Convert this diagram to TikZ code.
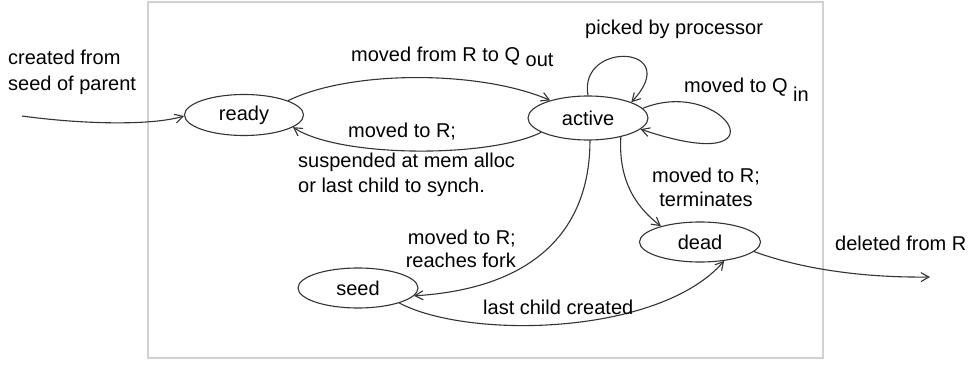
\documentclass[tikz,border=0pt]{standalone}
\usepackage{fontspec}
\setmainfont{Liberation Sans}
\usetikzlibrary{arrows.meta,shapes.geometric}
\begin{document}
\begin{tikzpicture}[x=1pt,y=-1pt,
  state/.style={ellipse,draw=black!80,line width=1.1pt,inner sep=0pt,
    minimum width=120pt,minimum height=41pt,font=\fontsize{20}{24}\selectfont},
  lbl/.style={inner sep=0pt,font=\fontsize{20}{24}\selectfont,text=black},
  conn/.style={draw=black!80,line width=1.1pt,-{Straight Barb[length=8pt,width=9pt,line width=1.1pt]}}]
\useasboundingbox (0,0) rectangle (970,366);
\draw[black!18,line width=1.2pt] (148,2) rectangle (823,358);
% states
\node[state,minimum width=119pt] (ready) at (244,115) {ready};
\node[state,minimum height=44pt] (active) at (588,118) {active};
\node[state,minimum width=121pt,minimum height=40pt] (dead) at (700,242) {dead};
\node[state,minimum height=40pt] (seed) at (358,288) {seed};
% free ends
\coordinate (inS) at (22,116);
\coordinate (outE) at (930,277);
% connectors
\draw[conn] (inS) .. controls (80,124) and (150,126) .. (ready.181);
\draw[conn] (ready.18) .. controls (350,70) and (480,70) .. (active.155);
\draw[conn] (active.197) .. controls (490,158) and (340,158) .. (ready.346);
\draw[conn] (active.90) .. controls (578,40) and (685,45) .. (active.20);
\draw[conn] (active.10) .. controls (725,75) and (790,180) .. (active.-12);
\draw[conn] (active.-30) .. controls (618,185) and (640,210) .. (dead.158);
\draw[conn] (active.-85) .. controls (590,225) and (540,288) .. (seed.-8);
\draw[conn] (seed.-20) .. controls (470,340) and (660,335) .. (dead.-38);
\draw[conn] (dead.-10) .. controls (790,265) and (850,278) .. (outE);
% labels
\node[lbl,anchor=base west,align=left,font=\fontsize{20}{26}\selectfont] (lcreated) at (8,91) {created from\\seed of parent};
\node[lbl,anchor=base west] (lqout) at (351,62) {moved from R to Q \raisebox{-5pt}{out}};
\node[lbl,anchor=base west] (lmovedR) at (348,138) {moved to R;};
\node[lbl,anchor=base west,align=left,font=\fontsize{20}{25}\selectfont] (lsusp) at (298,193) {suspended at mem alloc\\or last child to synch.};
\node[lbl,anchor=base west] (lpicked) at (585,35) {picked by processor};
\node[lbl,anchor=base west] (lqin) at (684,93) {moved to Q \raisebox{-9pt}{in}};
\node[lbl,anchor=base,align=center] (lterm) at (706,207) {moved to R;\\terminates};
\node[lbl,anchor=base east,align=right,font=\fontsize{20}{23}\selectfont] (lfork) at (516,268) {moved to R;\\reaches fork};
\node[lbl,anchor=base west] (llast) at (483,315) {last child created};
\node[lbl,anchor=base west] (ldel) at (835,251) {deleted from R};
\end{tikzpicture}
\end{document}
